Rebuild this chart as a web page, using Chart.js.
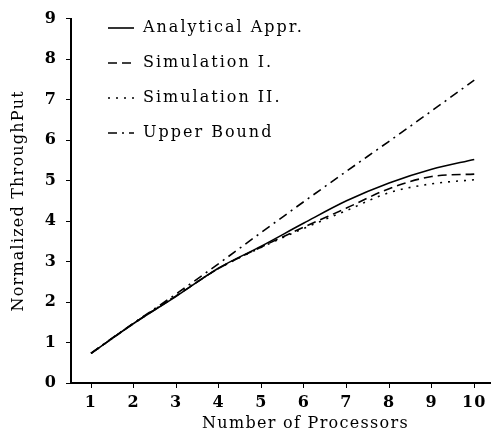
<!DOCTYPE html>
<html>
<head>
<meta charset="utf-8">
<script src="https://cdn.jsdelivr.net/npm/chart.js@4/dist/chart.umd.min.js"></script>
<style>
html,body{margin:0;padding:0;background:#fff;}
#wrap{width:491px;height:437px;}
</style>
</head>
<body>
<div id="wrap"><canvas id="c" width="491" height="437"></canvas></div>
<script>
const processors = [1, 2, 3, 4, 5, 6, 7, 8, 9, 10];
const analytical = [0.73, 1.47, 2.14, 2.84, 3.38, 3.95, 4.50, 4.94, 5.28, 5.52];
const simulation1 = [0.73, 1.47, 2.15, 2.83, 3.36, 3.85, 4.32, 4.80, 5.10, 5.16];
const simulation2 = [0.73, 1.47, 2.16, 2.83, 3.35, 3.82, 4.26, 4.70, 4.92, 5.02];
const upperBound = [0.74, 1.48, 2.20, 2.95, 3.72, 4.48, 5.23, 5.97, 6.72, 7.48];
const seriesLabels = ['Analytical Appr.', 'Simulation I.', 'Simulation II.', 'Upper Bound'];
const yTicks = [0, 1, 2, 3, 4, 5, 6, 7, 8, 9];
const xTitle = 'Number of Processors';
const yTitle = 'Normalized ThroughPut';

const serif = "'DejaVu Serif', serif";
const pts = arr => processors.map((p, i) => ({x: p, y: arr[i]}));
const mk = (label, arr, dash) => ({
  label, data: pts(arr), borderColor: '#000', borderWidth: 1.6, borderDash: dash,
  pointRadius: 0, fill: false, cubicInterpolationMode: 'monotone'
});

const spacingPlugin = {
  id: 'spacing',
  beforeDraw(chart) { chart.ctx.letterSpacing = '1.2px'; }
};

const textPlugin = {
  id: 'inLegend',
  afterDatasetsDraw(chart) {
    const ctx = chart.ctx;
    ctx.save();
    chart.data.datasets.forEach((ds, i) => {
      const y = 28 + i * 35;
      ctx.strokeStyle = '#000';
      ctx.lineWidth = 1.6;
      ctx.setLineDash(ds.borderDash || []);
      ctx.beginPath();
      ctx.moveTo(108, y);
      ctx.lineTo(134, y);
      ctx.stroke();
      ctx.setLineDash([]);
      ctx.fillStyle = '#000';
      ctx.font = "16px " + serif;
      ctx.letterSpacing = '2px';
      ctx.textBaseline = 'middle';
      ctx.textAlign = 'left';
      ctx.fillText(ds.label, 143, y);
    });
    const xs = chart.scales.x;
    ctx.font = "16px " + serif;
    ctx.letterSpacing = '1.3px';
    ctx.textAlign = 'center';
    ctx.textBaseline = 'middle';
    ctx.fillText(xTitle, (xs.left + xs.right) / 2 + 25, 424);
    ctx.restore();
  }
};

new Chart(document.getElementById('c'), {
  type: 'line',
  data: {
    datasets: [
      mk(seriesLabels[0], analytical, []),
      mk(seriesLabels[1], simulation1, [9, 5]),
      mk(seriesLabels[2], simulation2, [2, 6]),
      mk(seriesLabels[3], upperBound, [9, 5, 2, 5])
    ]
  },
  options: {
    responsive: false,
    animation: false,
    layout: {padding: {top: 16, right: 1, left: 0, bottom: 0}},
    plugins: {legend: {display: false}, tooltip: {enabled: false}},
    scales: {
      x: {
        type: 'linear', min: 0.53, max: 10.37,
        afterBuildTicks: s => { s.ticks = processors.map(v => ({value: v})); },
        afterFit: s => { s.height = 54; },
        border: {color: '#000', width: 2},
        grid: {drawOnChartArea: false, drawTicks: true, tickLength: 5, color: '#000'},
        ticks: {color: '#000', font: {family: serif, weight: 'bold', size: 16}, padding: 5, maxRotation: 0},
        title: {display: false, text: xTitle}
      },
      y: {
        type: 'linear', min: 0, max: 9,
        afterBuildTicks: s => { s.ticks = yTicks.map(v => ({value: v})); },
        afterFit: s => { s.width = 71; },
        border: {color: '#000', width: 2},
        grid: {drawOnChartArea: false, drawTicks: true, tickLength: 5, color: '#000'},
        ticks: {color: '#000', font: {family: serif, weight: 'bold', size: 16}, padding: 9},
        title: {display: true, text: yTitle, color: '#000', font: {family: serif, size: 16}, padding: {top: 9, bottom: 0}}
      }
    }
  },
  plugins: [spacingPlugin, textPlugin]
});
</script>
</body>
</html>
